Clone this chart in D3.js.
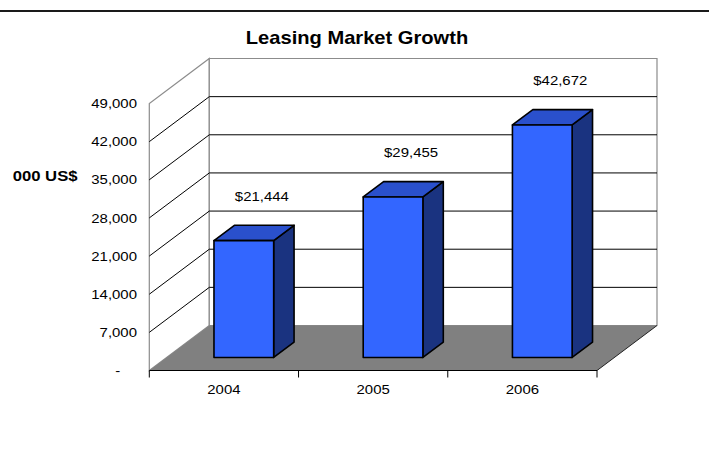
<!DOCTYPE html>
<html>
<head>
<meta charset="utf-8">
<script src="https://cdn.jsdelivr.net/npm/d3@7"></script>
<style>
  html, body { margin: 0; padding: 0; background: #fff; }
  svg { display: block; }
  text { font-family: "Liberation Sans", Arial, sans-serif; fill: #000; }
</style>
</head>
<body>
<script>
// ---- data ----
const categories = ["2004", "2005", "2006"];
const values = [21444, 29455, 42672];
const valueLabels = ["$21,444", "$29,455", "$42,672"];
const yTicks = [0, 7000, 14000, 21000, 28000, 35000, 42000, 49000];
const yTickLabels = ["-", "7,000", "14,000", "21,000", "28,000", "35,000", "42,000", "49,000"];
const chartTitle = "Leasing Market Growth";
const yAxisTitle = "000 US$";

// ---- layout ----
const W = 709, H = 470;
const X0 = 149.3, X1 = 597, Y0 = 370.5, YT = 103.5;
const DX = 60, DY = -45;          // depth vector (z from 0 to 1)
const Z0 = 0.29, Z1 = 0.63;       // bar depth extent
const BAR_SHIFT = 2.5;            // bars sit slightly right of band centre
const SX = 1.15;                  // horizontal text stretch

const svg = d3.select("body").append("svg").attr("width", W).attr("height", H);

const x = d3.scaleBand().domain(categories).range([X0, X1]).paddingInner(0.6).paddingOuter(0.3);
const y = d3.scaleLinear().domain([0, 49000]).range([Y0, YT]);
const P = (px, py, z) => [px + DX * z, py + DY * z];
const pts = arr => arr.map(p => p.join(",")).join(" ");

// top rule
svg.append("line").attr("x1", 0).attr("x2", W).attr("y1", 11).attr("y2", 11)
  .attr("stroke", "#1a1a1a").attr("stroke-width", 2);

// title
svg.append("text").attr("transform", `translate(357,44) scale(${SX},1)`)
  .attr("text-anchor", "middle").attr("font-size", 17.5).attr("font-weight", "bold")
  .text(chartTitle);

// walls
svg.append("polygon")
  .attr("points", pts([P(X0, Y0, 0), P(X0, YT, 0), P(X0, YT, 1), P(X0, Y0, 1)]))
  .attr("fill", "#fff").attr("stroke", "#8c8c8c").attr("stroke-width", 1.2);
svg.append("polygon")
  .attr("points", pts([P(X0, YT, 1), P(X1, YT, 1), P(X1, Y0, 1), P(X0, Y0, 1)]))
  .attr("fill", "#fff").attr("stroke", "#8c8c8c").attr("stroke-width", 1.2);

// gridlines
const grid = svg.append("g").attr("stroke", "#000").attr("stroke-width", 1);
yTicks.filter(t => t > 0 && t < 49000).forEach(t => {
  const a = P(X0, y(t), 0), b = P(X0, y(t), 1), c = P(X1, y(t), 1);
  grid.append("polyline").attr("fill", "none").attr("points", pts([a, b, c]));
});

// floor
svg.append("polygon")
  .attr("points", pts([P(X0, Y0, 0), P(X1, Y0, 0), P(X1, Y0, 1), P(X0, Y0, 1)]))
  .attr("fill", "#808080");
{
  const a = P(X1, Y0, 0), b = P(X1, Y0, 1);
  svg.append("line").attr("x1", a[0]).attr("y1", a[1]).attr("x2", b[0]).attr("y2", b[1])
    .attr("stroke", "#222").attr("stroke-width", 1);
}

// bars
const bars = svg.append("g").attr("stroke", "#000").attr("stroke-width", 1.6).attr("stroke-linejoin", "round");
categories.forEach((c, i) => {
  const xl = x(c) + BAR_SHIFT, xr = x(c) + x.bandwidth() + BAR_SHIFT;
  const yv = y(values[i]), yb = y(0);
  // side
  bars.append("polygon").attr("fill", "#1a3380")
    .attr("points", pts([P(xr, yb, Z0), P(xr, yv, Z0), P(xr, yv, Z1), P(xr, yb, Z1)]));
  // top
  bars.append("polygon").attr("fill", "#2a50cc")
    .attr("points", pts([P(xl, yv, Z0), P(xr, yv, Z0), P(xr, yv, Z1), P(xl, yv, Z1)]));
  // front
  const f0 = P(xl, yv, Z0), f1 = P(xr, yb, Z0);
  bars.append("rect").attr("fill", "#3366ff")
    .attr("x", f0[0]).attr("y", f0[1]).attr("width", f1[0] - f0[0]).attr("height", f1[1] - f0[1]);
  // value label
  const cx = (f0[0] + f1[0]) / 2 + 18;
  const backTop = P(xl, yv, Z1)[1];
  svg.append("text").attr("transform", `translate(${cx},${backTop - 29}) scale(${SX},1)`)
    .attr("text-anchor", "middle").attr("dy", "0.35em").attr("font-size", 13)
    .text(valueLabels[i]);
});

// x axis
const xAxisG = svg.append("g").attr("transform", `translate(0,${Y0})`)
  .call(d3.axisBottom(x).tickSize(0).tickPadding(0));
xAxisG.select(".domain").remove();
xAxisG.selectAll(".tick text").attr("font-size", 13).attr("fill", "#000")
  .attr("y", 0).attr("dy", 0)
  .attr("transform", `translate(0,23) scale(${SX},1)`)
  .style("font-family", "'Liberation Sans', Arial, sans-serif");
svg.append("line").attr("x1", X0).attr("x2", X1).attr("y1", Y0).attr("y2", Y0)
  .attr("stroke", "#000").attr("stroke-width", 1.2);
d3.range(categories.length + 1).forEach(k => {
  const xx = X0 + k * x.step();
  svg.append("line").attr("x1", xx).attr("x2", xx).attr("y1", Y0).attr("y2", Y0 + 7)
    .attr("stroke", "#000").attr("stroke-width", 1);
});

// y axis labels
const yAxisG = svg.append("g").attr("transform", `translate(${X0},0)`)
  .call(d3.axisLeft(y).tickValues(yTicks).tickFormat((d, i) => yTickLabels[i]).tickSize(0));
yAxisG.select(".domain").remove();
yAxisG.selectAll(".tick text").attr("font-size", 13).attr("fill", "#000").attr("x", 0)
  .style("font-family", "'Liberation Sans', Arial, sans-serif")
  .attr("transform", d => `translate(${d === 0 ? -29 : -12.3},0) scale(${SX},1)`);

// y axis title
svg.append("text").attr("transform", `translate(12.7,180.5) scale(${SX},1)`)
  .attr("font-size", 14.5).attr("font-weight", "bold").text(yAxisTitle);
</script>
</body>
</html>
